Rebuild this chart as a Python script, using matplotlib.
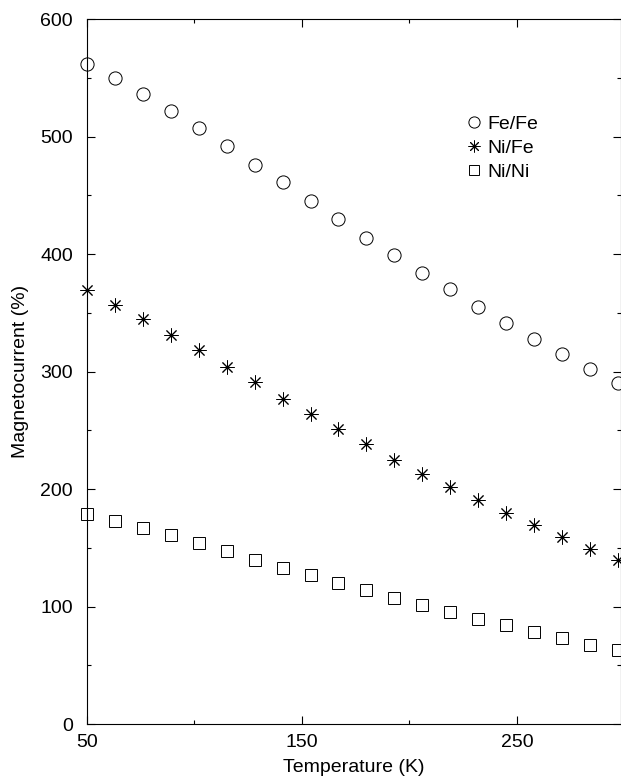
import matplotlib
matplotlib.use("Agg")
import matplotlib.pyplot as plt
from matplotlib.ticker import MultipleLocator

plt.rcParams['font.family'] = ['Liberation Sans', 'DejaVu Sans']

# temperature (K)
temp = [50, 63, 76, 89, 102, 115, 128, 141, 154, 167,
        180, 193, 206, 219, 232, 245, 258, 271, 284, 297]

# magnetocurrent (%)
fe_fe = [562, 550, 536, 522, 507, 492, 476, 461, 445, 430,
         414, 399, 384, 370, 355, 341, 328, 315, 302, 290]
ni_fe = [369, 357, 345, 331, 318, 304, 291, 277, 264, 251,
         238, 225, 213, 202, 191, 180, 169, 159, 149, 140]
ni_ni = [179, 173, 167, 161, 154, 147, 140, 133, 127, 120,
         114, 107, 101, 95, 89, 84, 78, 73, 67, 63]

fig = plt.figure(figsize=(6.21, 7.76), dpi=100)
ax = fig.add_axes([0.140, 0.067, 0.860, 0.9085])

kw = dict(linestyle='none', markerfacecolor='none', markeredgecolor='black',
          markeredgewidth=0.7, clip_on=False)
ax.plot(temp, fe_fe, marker='o', markersize=9.5, label='Fe/Fe', **kw)
ax.plot(temp, ni_fe, marker=(8, 2, 0), markersize=10, label='Ni/Fe', **kw)
ax.plot(temp, ni_ni, marker='s', markersize=8, label='Ni/Ni', **kw)

ax.set_xlim(50, 298.4)
ax.set_ylim(0, 600)
ax.xaxis.set_minor_locator(MultipleLocator(50))
ax.set_xticks([50, 150, 250])
ax.yaxis.set_major_locator(MultipleLocator(100))
ax.yaxis.set_minor_locator(MultipleLocator(50))

ax.tick_params(which='both', direction='in', top=True, right=True,
               width=0.8, labelsize=14)
ax.tick_params(which='major', length=6)
ax.tick_params(which='minor', length=3)
ax.tick_params(axis='x', pad=7)
ax.tick_params(axis='y', pad=10)
for s in ax.spines.values():
    s.set_linewidth(0.8)

ax.set_xlabel('Temperature (K)', fontsize=14, labelpad=6)
ax.set_ylabel('Magnetocurrent (%)', fontsize=14, labelpad=8)

ax.legend(loc='upper left', bbox_to_anchor=(0.71, 0.863), frameon=False,
          fontsize=14, handlelength=0.85, handletextpad=0.25,
          labelspacing=0.32, borderpad=0, borderaxespad=0, markerscale=0.85)

fig.savefig('out.png', dpi=100)
